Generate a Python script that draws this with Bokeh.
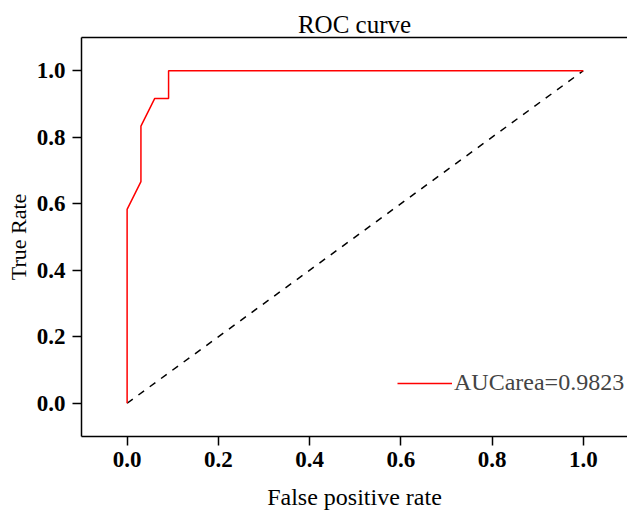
from bokeh.plotting import figure
from bokeh.models import Range1d, Legend, LegendItem, LinearAxis, FixedTicker
from bokeh.embed import file_html
from bokeh.resources import INLINE

# ROC curve points (false positive rate, true positive rate)
fpr = [0.0, 0.0, 0.0303, 0.0303, 0.0606, 0.0909, 0.0909, 1.0]
tpr = [0.0, 0.5833, 0.6667, 0.8333, 0.9167, 0.9167, 1.0, 1.0]
auc_label = "AUCarea=0.9823"

# chance diagonal
diag_x = [0.0, 1.0]
diag_y = [0.0, 1.0]

ticks = [0.0, 0.2, 0.4, 0.6, 0.8, 1.0]
tick_labels = {0.0: "0.0", 0.2: "0.2", 0.4: "0.4", 0.6: "0.6", 0.8: "0.8", 1.0: "1.0"}

SERIF = "Liberation Serif"

p = figure(width=627, height=512, output_backend="svg", toolbar_location=None,
           x_range=Range1d(-0.1, 1.097), y_range=Range1d(-0.1, 1.1),
           title="ROC curve",
           min_border_left=81, min_border_right=0, min_border_top=37, min_border_bottom=76)

p.grid.visible = False
p.outline_line_color = None
p.background_fill_color = "white"
p.border_fill_color = "white"

p.title.align = "center"
p.title.text_font = SERIF
p.title.text_font_size = "25px"
p.title.text_font_style = "normal"
p.title.text_color = "black"
p.title.standoff = 0

for ax, lab in ((p.xaxis[0], "False positive rate"), (p.yaxis[0], "True Rate")):
    ax.axis_label = lab
    ax.axis_label_text_font = SERIF
    ax.axis_label_text_font_style = "normal"
    ax.axis_label_text_color = "black"
    ax.ticker = FixedTicker(ticks=ticks)
    ax.major_label_overrides = tick_labels
    ax.major_label_text_font = SERIF
    ax.major_label_text_font_size = "23px"
    ax.major_label_text_font_style = "bold"
    ax.major_label_text_color = "black"
    ax.major_tick_out = 9
    ax.major_tick_in = 0
    ax.minor_tick_line_color = None
    ax.axis_line_width = 1.5
    ax.major_tick_line_width = 1.5

p.xaxis[0].axis_label_text_font_size = "24px"
p.yaxis[0].axis_label_text_font_size = "22px"
p.xaxis[0].major_label_standoff = 6
p.yaxis[0].major_label_standoff = 7
p.xaxis[0].axis_label_standoff = 14
p.yaxis[0].axis_label_standoff = 3

# top border of the frame
top = LinearAxis(major_tick_line_color=None, minor_tick_line_color=None,
                 major_tick_out=0, major_label_standoff=0,
                 major_label_text_font_size="0px", axis_line_width=1.5,
                 ticker=FixedTicker(ticks=[]))
p.add_layout(top, "above")

p.line(diag_x, diag_y, line_color="black", line_width=1.5, line_dash="7 7")
roc = p.line(fpr, tpr, line_color="red", line_width=1.5)

legend = Legend(items=[LegendItem(label=auc_label, renderers=[roc])],
                location=(316, 40), orientation="vertical",
                border_line_color=None, background_fill_alpha=0,
                glyph_width=55, label_standoff=2, padding=0, margin=0,
                label_text_font=SERIF, label_text_font_size="24px")
p.add_layout(legend, "center")

open("out.html", "w").write(file_html(p, INLINE))
